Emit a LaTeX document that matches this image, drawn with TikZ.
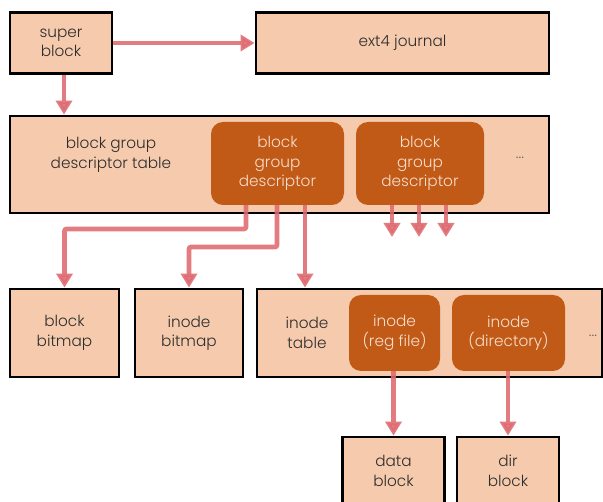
\documentclass[tikz,border=0pt]{standalone}
\usepackage{fontspec}
\setmainfont{Poppins}[UprightFont=* Light]
\usetikzlibrary{arrows.meta}
\definecolor{peach}{RGB}{246,203,173}
\definecolor{burnt}{RGB}{193,90,23}
\definecolor{arrc}{RGB}{222,106,112}
\definecolor{txt}{RGB}{45,45,45}
\definecolor{ltxt}{RGB}{248,222,204}
\definecolor{dotc}{RGB}{100,92,88}
\begin{document}
\begin{tikzpicture}[x=1pt,y=-1pt,font=\fontsize{15.3}{19.5}\selectfont,
  box/.style={draw=black,line width=2.8pt,fill=peach,text=txt,align=center,inner sep=0pt},
  rbox/.style={fill=burnt,rounded corners=12pt,text=ltxt,align=center,inner sep=0pt},
  lbl/.style={text=txt,align=center,inner sep=0pt},
  dotlbl/.style={text=dotc,inner sep=0pt,font=\fontsize{15}{17}\selectfont},
  arr/.style={draw=arrc,line width=4.6pt,-{Triangle[length=14pt,width=16pt]},opacity=0.88,rounded corners=2pt},
]
\useasboundingbox (0,0) rectangle (603,502);
\fill[white] (0,0) rectangle (603,502);

% top row
\node[box,minimum width=102pt,minimum height=61pt] (sb) at (61,43) {super\\block};
\node[box,minimum width=293pt,minimum height=61pt] (j) at (402.5,43) {ext4 journal};

% block group descriptor table
\node[box,minimum width=539pt,minimum height=97pt] (bgdt) at (279.5,164.5) {};
\node[lbl] (bgdtl) at (111,155) {block group\\descriptor table};
\node[rbox,minimum width=133pt,minimum height=83pt] (bgd1) at (277.5,163.5) {block\\group\\descriptor};
\node[rbox,minimum width=128pt,minimum height=83pt] (bgd2) at (420,163.5) {block\\group\\descriptor};
\node[dotlbl] (dots1) at (520,158) {...};

% third row
\node[box,minimum width=109pt,minimum height=88pt] (bb) at (64.5,333) {block\\bitmap};
\node[box,minimum width=108pt,minimum height=88pt] (ib) at (189,333) {inode\\bitmap};
\node[box,minimum width=345pt,minimum height=88pt] (it) at (429.5,333) {};
\node[lbl] (itl) at (307,333) {inode\\table};
\node[rbox,minimum width=91pt,minimum height=76pt] (ir) at (394.5,333) {inode\\(reg file)};
\node[rbox,minimum width=113pt,minimum height=76pt] (id) at (508.5,333) {inode\\(directory)};
\node[dotlbl] (dots2) at (593,336) {...};

% bottom row
\node[box,minimum width=102pt,minimum height=68pt] (db) at (393.5,471) {data\\block};
\node[box,minimum width=102pt,minimum height=68pt] (dbk) at (508,471) {dir\\block};

% free ends
\coordinate (e1) at (392,237);
\coordinate (e2) at (419,237);
\coordinate (e3) at (446,237);

% connectors
\draw[arr] (sb.east) -- (j.west);
\draw[arr] ([xshift=3pt]sb.south) -- ([xshift=3pt]sb.south |- bgdt.north);
\draw[arr] (bgd1.south -| 246,0) -- (246,229) -| (bb.north);
\draw[arr] (bgd1.south -| 277,0) -- (277,247) -| (ib.north);
\draw[arr] (bgd1.south -| 305,0) -- (it.north -| 305,0);
\draw[arr] (bgd2.south -| e1) -- (e1);
\draw[arr] (bgd2.south -| e2) -- (e2);
\draw[arr] (bgd2.south -| e3) -- (e3);
\draw[arr] (ir.south -| db.north) -- (db.north);
\draw[arr] (id.south -| dbk.north) -- (dbk.north);
\end{tikzpicture}
\end{document}
